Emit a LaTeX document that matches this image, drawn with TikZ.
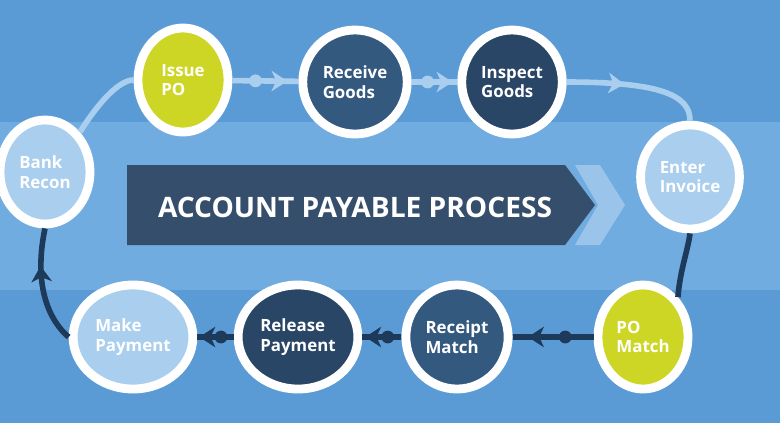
\documentclass[tikz,border=0pt]{standalone}
\usepackage{fontspec}
\setmainfont{Open Sans}
\usetikzlibrary{shapes.geometric,arrows.meta,decorations.markings}
\definecolor{bgblue}{RGB}{91,155,213}
\definecolor{bandblue}{RGB}{112,172,224}
\definecolor{limegreen}{RGB}{205,214,36}
\definecolor{midnavy}{RGB}{52,89,127}
\definecolor{deepnavy}{RGB}{41,70,102}
\definecolor{paleblue}{RGB}{170,206,238}
\definecolor{linkdark}{RGB}{30,58,90}

\begin{document}
\begin{tikzpicture}[
    x=0.025cm, y=-0.025cm,
    stage/.style={ellipse, draw=white, line width=2.2mm, minimum width=2.25cm, minimum height=2.6cm,
                  align=left, text=white, font=\bfseries\fontsize{12}{14}\selectfont},
    lightlink/.style={paleblue, line width=1.4mm, postaction={decorate}, decoration={markings,
        mark=at position 0.35 with {\fill (0,0) circle (1.6mm);},
        mark=at position 0.7 with {\fill (2.2mm,0) -- (-1.8mm,2.6mm) -- (-0.6mm,0) -- (-1.8mm,-2.6mm) -- cycle;}}},
    darklink/.style={lightlink, linkdark},
    curvelink/.style={line width=1.4mm}
]
    % background bands
    \fill[bgblue] (0,0) rectangle (780,423);
    \fill[bandblue] (0,122) rectangle (780,290);
    \useasboundingbox (0,0) rectangle (780,423);

    % stages
    \node[stage, fill=limegreen] (issue) at (183,80) {Issue\\PO};
    \node[stage, fill=midnavy] (receive) at (355,82) {Receive\\Goods};
    \node[stage, fill=deepnavy] (inspect) at (512,82) {Inspect\\Goods};
    \node[stage, fill=paleblue] (enter) at (690,177) {Enter\\Invoice};
    \node[stage, fill=limegreen] (pomatch) at (643,337) {PO\\Match};
    \node[stage, fill=midnavy] (receipt) at (457,337) {Receipt\\Match};
    \node[stage, fill=deepnavy] (release) at (298,337) {Release\\Payment};
    \node[stage, fill=paleblue] (make) at (133,337) {Make\\Payment};
    \node[stage, fill=paleblue] (bank) at (45,172) {Bank\\Recon};

    % title banner
    \fill[paleblue!80!bgblue] (575,165) -- (600,165) -- (625,205) -- (600,245) -- (575,245) -- (598,205) -- cycle;
    \fill[linkdark!90!white] (127,165) -- (565,165) -- (595,205) -- (565,245) -- (127,245) -- cycle;
    \node[text=white, font=\bfseries\fontsize{20}{24}\selectfont] (title) at (355,207) {ACCOUNT PAYABLE PROCESS};

    % links
    \draw[lightlink] (issue) -- (receive);
    \draw[lightlink] (receive) -- (inspect);
    \draw[paleblue, curvelink, postaction={decorate}, decoration={markings,
        mark=at position 0.35 with {\fill (2.2mm,0) -- (-1.8mm,2.6mm) -- (-0.6mm,0) -- (-1.8mm,-2.6mm) -- cycle;}}]
        (inspect.east) .. controls (660,82) and (690,95) .. (enter.north);
    \draw[paleblue, curvelink] (bank.north east) .. controls (100,100) and (120,80) .. (issue.west);
    \draw[darklink] (pomatch) -- (receipt);
    \draw[darklink] (receipt) -- (release);
    \draw[darklink] (release) -- (make);
    \draw[linkdark, curvelink] (enter.south) .. controls (688,250) and (680,270) .. (pomatch.north east);
    \draw[linkdark, curvelink, postaction={decorate}, decoration={markings,
        mark=at position 0.6 with {\fill (2.2mm,0) -- (-1.8mm,2.6mm) -- (-0.6mm,0) -- (-1.8mm,-2.6mm) -- cycle;}}]
        (make.west) .. controls (60,330) and (30,300) .. (bank.south);
\end{tikzpicture}
\end{document}
